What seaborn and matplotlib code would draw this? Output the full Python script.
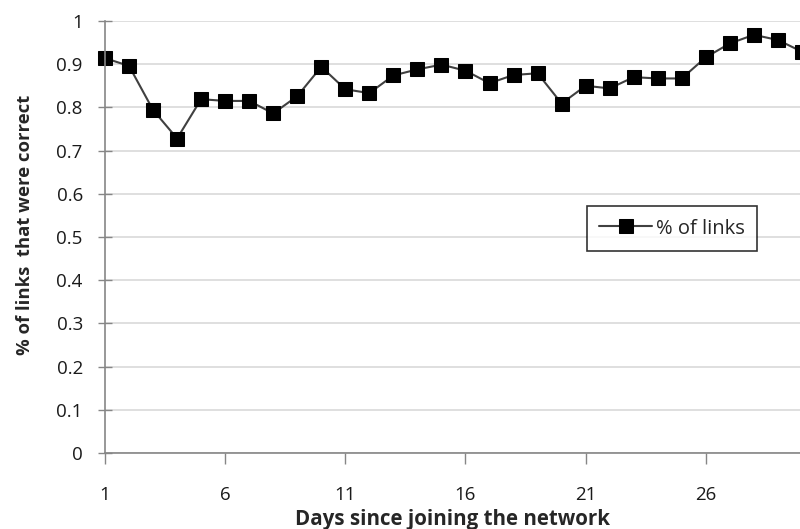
import matplotlib
matplotlib.use("Agg")
import matplotlib.pyplot as plt
import seaborn as sns
import pandas as pd

days = list(range(1, 31))
pct_links = [0.914, 0.896, 0.794, 0.728, 0.819, 0.815, 0.815, 0.786, 0.826, 0.894,
             0.842, 0.833, 0.874, 0.888, 0.899, 0.885, 0.856, 0.875, 0.879, 0.809,
             0.850, 0.844, 0.870, 0.867, 0.867, 0.916, 0.948, 0.968, 0.956, 0.929]
xticks = [1, 6, 11, 16, 21, 26]
yticks = [0, 0.1, 0.2, 0.3, 0.4, 0.5, 0.6, 0.7, 0.8, 0.9, 1]
ytick_labels = ["0", "0.1", "0.2", "0.3", "0.4", "0.5", "0.6", "0.7", "0.8", "0.9", "1"]

df = pd.DataFrame({"day": days, "pct": pct_links})

sns.set_style("white")
plt.rcParams['font.family'] = ['Open Sans', 'DejaVu Sans']

fig = plt.figure(figsize=(8, 5.29), dpi=100)
ax = fig.add_axes([105/800, (529-453)/529, 695/800, 432/529])

sns.lineplot(data=df, x="day", y="pct", ax=ax, color="#404040", linewidth=1.5,
             marker="s", markersize=10, markerfacecolor="black",
             markeredgecolor="black", label="% of links")
for ln in ax.lines:
    ln.set_clip_on(False)

ax.set_xlim(1, 29.92)
ax.set_ylim(0, 1)
ax.set_yticks(yticks)
ax.set_yticklabels(ytick_labels)
ax.set_xticks(xticks)
ax.set_xticklabels([str(t) for t in xticks])

for y in yticks:
    ax.axhline(y, color="#d9d9d9", linewidth=1.2, zorder=0)

for s in ["top", "right"]:
    ax.spines[s].set_visible(False)
for s in ["left", "bottom"]:
    ax.spines[s].set_color("#868686")
    ax.spines[s].set_linewidth(1.2)

ax.tick_params(axis="y", direction="inout", length=10, width=1, color="#868686",
               labelsize=13.5, pad=11, left=True, labelcolor="#1a1a1a")
ax.tick_params(axis="x", direction="out", length=8, width=1, color="#868686",
               labelsize=13.5, pad=16, bottom=True, labelcolor="#1a1a1a")

ax.set_xlabel("Days since joining the network", fontsize=14.8, fontweight="bold")
ax.set_ylabel("% of links  that were correct", fontsize=13.3, fontweight="bold")
ax.xaxis.set_label_coords(0.5, -0.153)
ax.xaxis.label.set_va("center")
ax.yaxis.set_label_coords(-0.115, 0.528)
ax.yaxis.label.set_va("center")
ax.yaxis.label.set_ha("center")

leg = ax.legend(loc="lower left", bbox_to_anchor=(0.6935, 0.4676), frameon=True,
                fancybox=False, shadow=False, fontsize=14.5, handlelength=2.6,
                handletextpad=0.2, borderpad=0.62, borderaxespad=0)
leg.get_frame().set_edgecolor("black")
leg.get_frame().set_linewidth(1.2)

fig.savefig("out.png", dpi=100)
